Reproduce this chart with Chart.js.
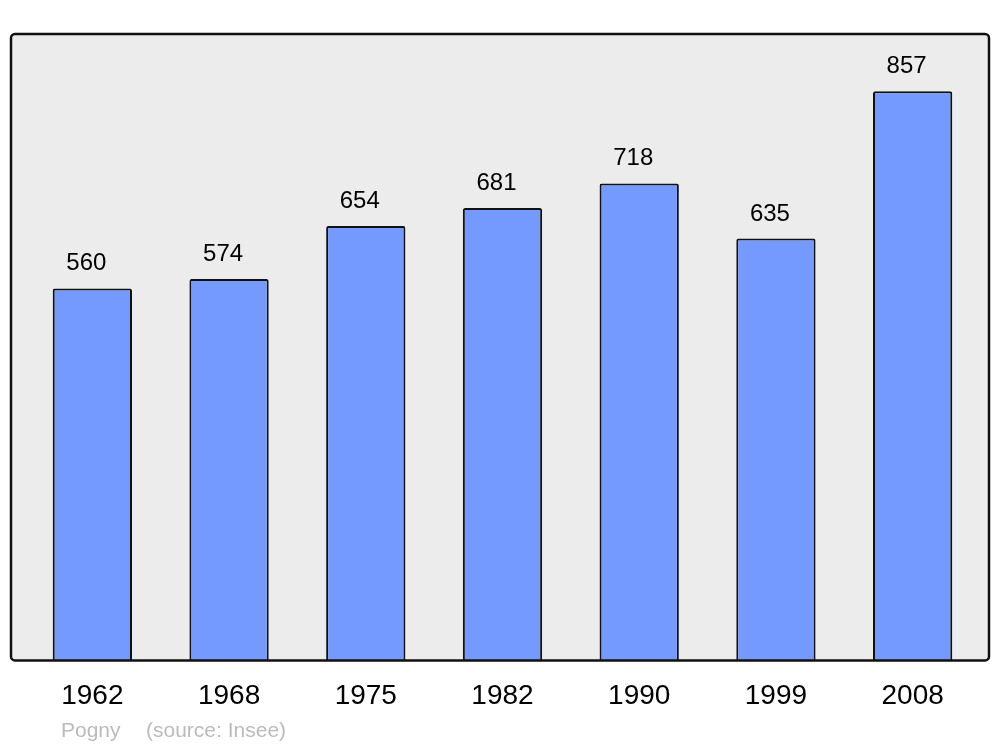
<!DOCTYPE html>
<html>
<head>
<meta charset="utf-8">
<script src="https://cdn.jsdelivr.net/npm/chart.js@4/dist/chart.umd.min.js"></script>
<style>
html,body{margin:0;padding:0;background:#fff;}
#wrap{width:1000px;height:747px;position:relative;}
</style>
</head>
<body>
<div id="wrap"><canvas id="c" width="1000" height="747"></canvas></div>
<script>
const years = ['1962','1968','1975','1982','1990','1999','2008'];
const population = [560, 574, 654, 681, 718, 635, 857];
const commune = 'Pogny';
const sourceText = '(source: Insee)';

const FONT = '"Liberation Sans", Arial, sans-serif';

const frame = {
  id: 'frame',
  beforeDatasetsDraw(chart) {
    const ctx = chart.ctx, a = chart.chartArea;
    ctx.save();
    ctx.beginPath();
    ctx.roundRect(11, a.top, 978, a.bottom - a.top, 4);
    ctx.fillStyle = '#ececec';
    ctx.fill();
    ctx.restore();
  },
  afterDatasetsDraw(chart) {
    const ctx = chart.ctx, a = chart.chartArea;
    ctx.save();
    ctx.beginPath();
    ctx.roundRect(11, a.top, 978, a.bottom - a.top, 4);
    ctx.lineWidth = 2.5;
    ctx.strokeStyle = '#111';
    ctx.stroke();
    // value labels
    const meta = chart.getDatasetMeta(0);
    ctx.fillStyle = '#000';
    ctx.font = '24px ' + FONT;
    ctx.textAlign = 'center';
    ctx.textBaseline = 'alphabetic';
    meta.data.forEach((bar, i) => {
      ctx.fillText(String(population[i]), bar.x - 6, bar.y - 18);
    });
    // footer
    ctx.fillStyle = '#bbbbbb';
    ctx.font = '21px ' + FONT;
    ctx.textAlign = 'left';
    ctx.fillText(commune, 61, 737);
    ctx.fillText(sourceText, 146, 737);
    ctx.restore();
  }
};

new Chart(document.getElementById('c'), {
  type: 'bar',
  data: {
    labels: years,
    datasets: [{
      data: population,
      backgroundColor: '#7499ff',
      borderColor: '#111',
      borderWidth: 2,
      borderSkipped: 'bottom',
      borderRadius: {topLeft: 2, topRight: 2, bottomLeft: 0, bottomRight: 0},
      barPercentage: 0.58,
      categoryPercentage: 1.0
    }]
  },
  options: {
    responsive: false,
    animation: false,
    devicePixelRatio: 1,
    layout: { padding: { top: 34, left: 24, right: 19, bottom: 15 } },
    plugins: { legend: { display: false }, tooltip: { enabled: false }, title: { display: false } },
    scales: {
      x: {
        grid: { display: false, drawTicks: false },
        border: { display: false },
        ticks: { color: '#000', font: { size: 28, family: FONT }, padding: 19 }
      },
      y: { display: false, min: 0, max: 943 }
    }
  },
  plugins: [frame]
});
</script>
</body>
</html>
